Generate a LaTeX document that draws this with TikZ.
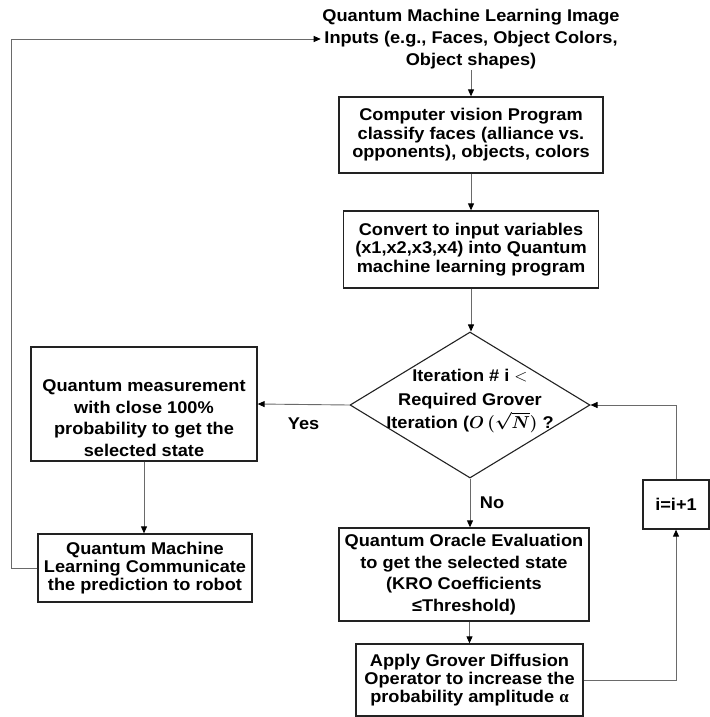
\documentclass[tikz,border=0pt]{standalone}
\usepackage{amsmath}
\usepackage{fontspec}
\setmainfont{Liberation Sans}[FakeStretch=1.07]
\newfontfamily\greekserif{Liberation Serif}
\usetikzlibrary{arrows.meta,shapes.geometric}
\definecolor{boxline}{HTML}{222222}
\definecolor{wiregrey}{HTML}{6A6A6A}
\newcommand{\boxfont}{\fontsize{17}{18.4}\selectfont\bfseries}
\newcommand{\wideboxfont}{\fontsize{17}{21.7}\selectfont\bfseries}
\newcommand{\diamondfont}{\fontsize{17}{23.3}\selectfont\bfseries}
\tikzset{
  block/.style    = {draw=boxline, line width=1.3pt, rectangle, inner sep=3pt,
                     align=center, font=\boxfont},
  decision/.style = {draw=boxline, line width=1.1pt, diamond, inner sep=0pt,
                     minimum width=240pt, minimum height=146pt},
  lbl/.style      = {font=\boxfont, inner sep=1.5pt, align=center},
  sig/.style      = {-{Triangle[length=7pt,width=6pt,color=black]}, draw=wiregrey, line width=0.9pt},
  wire/.style     = {draw=wiregrey, line width=0.9pt},
}

\begin{document}
\begin{tikzpicture}[x=1pt,y=-1pt]
  \useasboundingbox (0,0) rectangle (709,717);
  % main column
  \node[lbl, font=\wideboxfont] (inp) at (471,39)
    {Quantum Machine Learning Image\\Inputs (e.g., Faces, Object Colors,\\Object shapes)};
  \node[block, minimum width=264pt, minimum height=76pt] (cv) at (471,135)
    {Computer vision Program\\classify faces (alliance vs.\\opponents), objects, colors};
  \node[block, minimum width=255pt, minimum height=77pt] (conv) at (471,249.5)
    {Convert to input variables\\(x1,x2,x3,x4) into Quantum\\machine learning program};
  \node[decision] (iter) at (470,405) {};
  \node[lbl, font=\diamondfont] (iterlbl) at (470,401)
    {Iteration \# i $<$\\Required Grover\\Iteration ({\boldmath$O\,(\smash{\sqrt{N}})$} ?};
  \node[block, font=\wideboxfont, minimum width=250pt, minimum height=93pt] (oracle) at (464,574.5)
    {Quantum Oracle Evaluation\\to get the selected state\\(KRO Coefficients\\≤Threshold)};
  \node[block, minimum width=227pt, minimum height=72pt] (grover) at (469.5,680)
    {Apply Grover Diffusion\\Operator to increase the\\probability amplitude {\greekserif α}};
  \node[block, minimum width=66pt, minimum height=49pt] (incr) at (676,504.5) {i=i+1};
  % left column
  \node[block, font=\wideboxfont, inner sep=1pt, minimum width=226pt, minimum height=114pt] (meas) at (144,404)
    {\rule{0pt}{40pt}Quantum measurement\\with close 100\%\\probability to get the\\selected state};
  \node[block, minimum width=214pt, minimum height=68pt] (comm) at (145,568)
    {Quantum Machine\\Learning Communicate\\the prediction to robot};

  \draw[sig] (inp) -- (inp |- cv.north);
  \draw[sig] (cv) -- (conv);
  \draw[sig] (conv.south) -- (conv.south |- iter.north);
  \draw[sig] (iter.west) -- (meas.east) node[midway, lbl, below=11pt] {Yes};
  \draw[sig] (iter.south) -- (iter.south |- oracle.north) node[midway, lbl, right=8pt] {No};
  \draw[sig] (oracle.south -| grover.north) -- (grover.north);
  \draw[sig] (grover.east) -| (incr.south);
  \draw[sig] (incr.north) |- (iter.east);
  \draw[sig] (meas.south) -- (meas.south |- comm.north);
  % feedback to the inputs
  \draw[sig] (comm.west) -- ++(-26,0) |- (inp.west);
\end{tikzpicture}
\end{document}
